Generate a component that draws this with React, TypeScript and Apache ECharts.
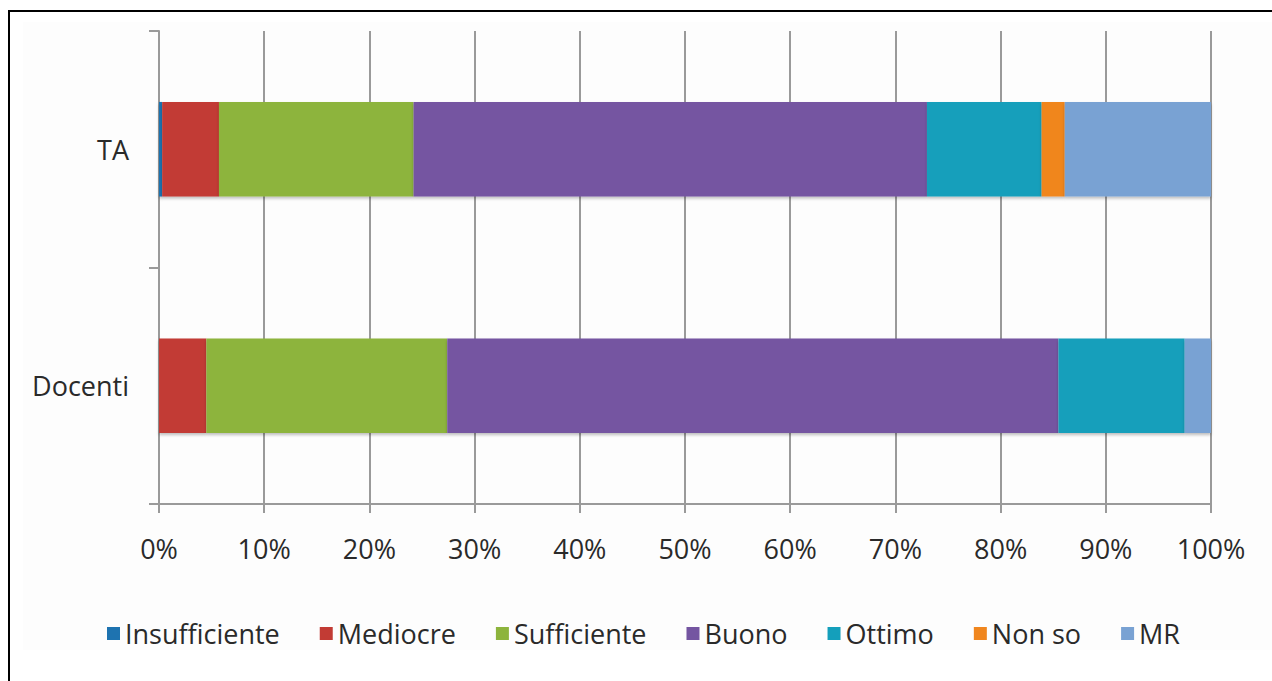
import React, { useEffect, useRef } from "react";
import * as echarts from "echarts";

const categories = ["Docenti", "TA"];
const seriesNames = ["Insufficiente", "Mediocre", "Sufficiente", "Buono", "Ottimo", "Non so", "MR"];
const insufficiente = [0, 0.3];
const mediocre = [4.5, 5.4];
const sufficiente = [22.9, 18.5];
const buono = [58.1, 48.8];
const ottimo = [12.0, 10.9];
const nonSo = [0, 2.2];
const mr = [2.5, 13.9];
const colors = ["#1e73b0", "#c23b34", "#8db43d", "#7455a1", "#149fbb", "#f0861e", "#79a2d3"];

export default function App() {
  const ref = useRef<HTMLDivElement>(null);
  useEffect(() => {
    const chart = echarts.init(ref.current!, null, { renderer: "svg" });
    const values = [insufficiente, mediocre, sufficiente, buono, ottimo, nonSo, mr];
    const font = "'Open Sans', sans-serif";
    chart.setOption({
      animation: false,
      backgroundColor: "#ffffff",
      color: colors,
      graphic: [
        { type: "rect", shape: { x: 23, y: 22, width: 1249, height: 628 }, style: { fill: "#fdfdfd" }, z: -10 },
        { type: "polyline", shape: { points: [[9, 681], [9, 11], [1272, 11]] }, style: { stroke: "#000", lineWidth: 2, fill: null } },
      ],
      grid: { left: 159, right: 61, top: 31, bottom: 177, containLabel: false },
      legend: {
        data: seriesNames,
        top: 615,
        left: 102,
        itemWidth: 13,
        itemHeight: 13,
        itemGap: 40,
        icon: "rect",
        textStyle: { fontFamily: font, fontSize: 27, color: "#2a2a2a" },
      },
      xAxis: {
        type: "value",
        min: 0,
        max: 100,
        interval: 10,
        axisLine: { show: true, lineStyle: { color: "#9a9a9a", width: 2 } },
        axisTick: { show: true, length: 9, lineStyle: { color: "#9a9a9a", width: 2 } },
        splitLine: { show: true, lineStyle: { color: "#9a9a9a", width: 2 } },
        axisLabel: { formatter: "{value}%", fontFamily: font, fontSize: 27, color: "#2a2a2a", margin: 31 },
      },
      yAxis: {
        type: "category",
        data: categories,
        axisLine: { show: true, lineStyle: { color: "#9a9a9a", width: 2 } },
        axisTick: { show: true, length: 10, lineStyle: { color: "#9a9a9a", width: 2 } },
        axisLabel: { fontFamily: font, fontSize: 27, color: "#2a2a2a", margin: 30 },
      },
      series: seriesNames.map((name, i) => ({
        name,
        type: "bar",
        stack: "total",
        barWidth: "40%",
        data: values[i],
        itemStyle: { color: colors[i], shadowColor: "rgba(0,0,0,0.25)", shadowBlur: 3, shadowOffsetY: 2 },
      })),
    });
    return () => chart.dispose();
  }, []);
  return (
    <div
      ref={ref}
      style={{ position: "absolute", left: 0, top: 0, width: 1272, height: 681 }}
    />
  );
}
